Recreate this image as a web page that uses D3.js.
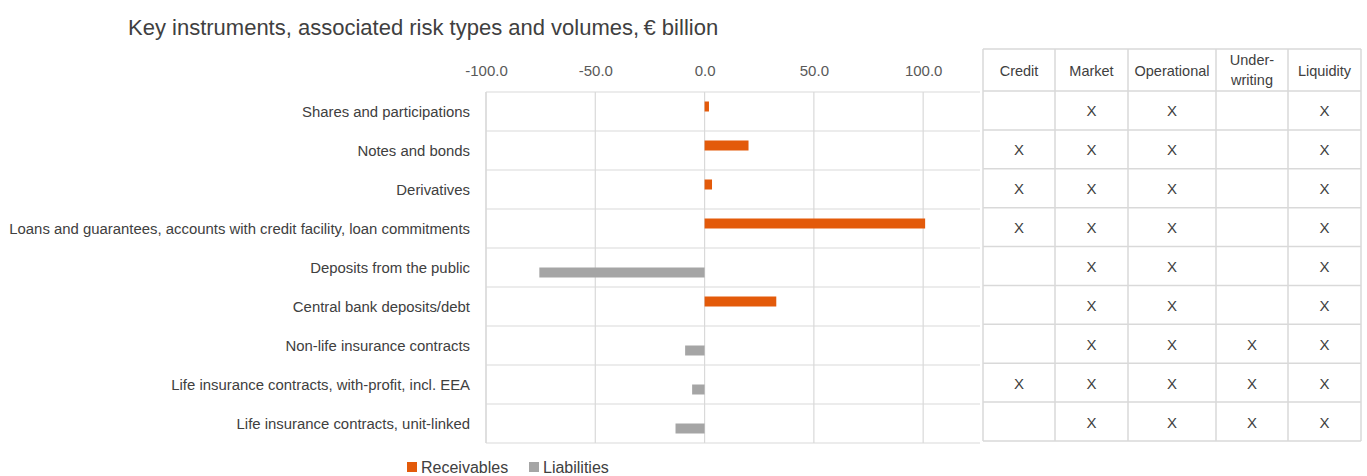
<!DOCTYPE html>
<html><head><meta charset="utf-8">
<script src="https://cdn.jsdelivr.net/npm/d3@7/dist/d3.min.js"></script>
<style>body{margin:0;background:#fff;} text{font-family:"Liberation Sans",Arial,sans-serif;}</style>
</head><body>
<svg id="c" width="1367" height="476"></svg>
<script>
const categories = [
  "Shares and participations",
  "Notes and bonds",
  "Derivatives",
  "Loans and guarantees, accounts with credit facility, loan commitments",
  "Deposits from the public",
  "Central bank deposits/debt",
  "Non-life insurance contracts",
  "Life insurance contracts, with-profit, incl. EEA",
  "Life insurance contracts, unit-linked"
];
const receivables = [2.0, 20.1, 3.4, 100.9, null, 32.8, null, null, null];
const liabilities = [null, null, null, null, -75.6, null, -8.9, -5.7, -13.3];
const xTicks = [-100, -50, 0, 50, 100];
const riskTypes = ["Credit", "Market", "Operational", "Under-\nwriting", "Liquidity"];
const riskMatrix = [
  [0,1,1,0,1],
  [1,1,1,0,1],
  [1,1,1,0,1],
  [1,1,1,0,1],
  [0,1,1,0,1],
  [0,1,1,0,1],
  [0,1,1,1,1],
  [1,1,1,1,1],
  [0,1,1,1,1]
];
const title = "Key instruments, associated risk types and volumes,\u2009€ billion";
const seriesNames = ["Receivables", "Liabilities"];
const colors = {Receivables: "#E35A0A", Liabilities: "#A5A5A5"};

const svg = d3.select("#c");
const grid = "#d9d9d9";

svg.append("text").attr("x", 128).attr("y", 35).attr("font-size", 22).attr("fill", "#404040").text(title);

const x = d3.scaleLinear().domain([-100, 126]).range([486, 980]);
const y = d3.scaleBand().domain(categories).range([92, 443]);
const half = 10;

// vertical gridlines
svg.append("g").selectAll("line").data(xTicks).join("line")
  .attr("x1", d => x(d)).attr("x2", d => x(d)).attr("y1", 92).attr("y2", 443)
  .attr("stroke", grid).attr("stroke-width", 1.2);
svg.append("line").attr("x1", 486).attr("x2", 486).attr("y1", 92).attr("y2", 443).attr("stroke", grid).attr("stroke-width", 1.2);
// horizontal gridlines
const hl = categories.map(c => y(c)).concat([443]);
svg.append("g").selectAll("line").data(hl).join("line")
  .attr("x1", 486).attr("x2", 980).attr("y1", d => d).attr("y2", d => d)
  .attr("stroke", grid).attr("stroke-width", 1.2);

// x axis labels
const ax = svg.append("g").attr("transform", "translate(0,76)")
  .call(d3.axisTop(x).tickValues(xTicks).tickFormat(d => d.toFixed(1)).tickSize(0).tickPadding(0));
ax.select(".domain").remove();
ax.selectAll("text").attr("font-size", 15).attr("fill", "#595959").attr("font-family", "Liberation Sans, Arial, sans-serif");

// bars
const cy = c => y(c) + y.bandwidth() / 2;
svg.append("g").selectAll("rect").data(categories.map((c, i) => ({c, v: receivables[i]})).filter(d => d.v != null)).join("rect")
  .attr("x", d => Math.min(x(0), x(d.v))).attr("width", d => Math.abs(x(d.v) - x(0)))
  .attr("y", d => cy(d.c) - half).attr("height", half).attr("fill", colors.Receivables);
svg.append("g").selectAll("rect").data(categories.map((c, i) => ({c, v: liabilities[i]})).filter(d => d.v != null)).join("rect")
  .attr("x", d => Math.min(x(0), x(d.v))).attr("width", d => Math.abs(x(d.v) - x(0)))
  .attr("y", d => cy(d.c)).attr("height", half).attr("fill", colors.Liabilities);

// category labels
svg.append("g").selectAll("text").data(categories).join("text")
  .attr("x", 470).attr("y", d => cy(d) + 5).attr("text-anchor", "end")
  .attr("font-size", 14.9).attr("fill", "#404040").text(d => d);

// table
const colEdges = [983, 1055, 1128, 1216, 1288, 1361];
const tTop = 49, tHead = 91, tBot = 441;
const ty = d3.scaleBand().domain(d3.range(categories.length)).range([tHead, tBot]);
const tg = svg.append("g");
colEdges.forEach(e => tg.append("line").attr("x1", e).attr("x2", e).attr("y1", tTop).attr("y2", tBot).attr("stroke", grid).attr("stroke-width", 1.5));
[tTop, tHead].concat(d3.range(1, categories.length + 1).map(i => tHead + i * ty.step())).forEach(v =>
  tg.append("line").attr("x1", colEdges[0]).attr("x2", colEdges[5]).attr("y1", v).attr("y2", v).attr("stroke", grid).attr("stroke-width", 1.5));
riskTypes.forEach((r, j) => {
  const cx = (colEdges[j] + colEdges[j + 1]) / 2;
  const lines = r.split("\n");
  const t = tg.append("text").attr("text-anchor", "middle").attr("font-size", 14.5).attr("fill", "#404040");
  lines.forEach((l, k) => {
    t.append("tspan").attr("x", cx).attr("y", lines.length === 1 ? 76 : 65 + k * 20).text(l);
  });
});
riskMatrix.forEach((row, i) => row.forEach((v, j) => {
  if (!v) return;
  tg.append("text").attr("x", (colEdges[j] + colEdges[j + 1]) / 2).attr("y", ty(i) + ty.bandwidth() / 2 + 6)
    .attr("text-anchor", "middle").attr("font-size", 15).attr("fill", "#404040").text("X");
}));

// legend
const lg = svg.append("g");
const lx = [407, 529];
seriesNames.forEach((s, i) => {
  lg.append("rect").attr("x", lx[i]).attr("y", 462).attr("width", 10).attr("height", 10).attr("fill", colors[s]);
  lg.append("text").attr("x", lx[i] + 14).attr("y", 473).attr("font-size", 16).attr("fill", "#404040").text(s);
});
</script>
</body></html>
